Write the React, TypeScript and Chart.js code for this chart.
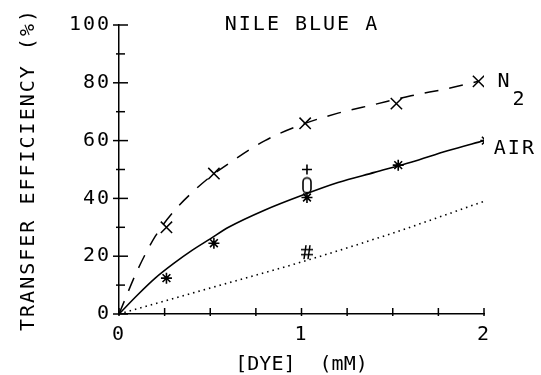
import React, { useEffect, useRef } from "react";
import { Chart, registerables } from "chart.js";

Chart.register(...registerables);

// ---- data ----
const n2CurveX = [0, 0.1, 0.2, 0.3, 0.4, 0.5, 0.6, 0.8, 1.0, 1.2, 1.4, 1.6, 1.8, 1.97];
const n2CurveY = [0, 15, 27, 35.5, 42, 47.5, 52, 60, 65.5, 69.5, 72.5, 75.5, 78, 80.5];

const airCurveX = [0, 0.1, 0.2, 0.3, 0.4, 0.5, 0.6, 0.8, 1.0, 1.2, 1.4, 1.6, 1.8, 2.0];
const airCurveY = [0, 6.5, 12.5, 17.5, 22, 26, 30, 36, 41, 45.5, 49, 52.5, 56.5, 60];

const dotX = [0, 0.5, 1.0, 1.5, 2.0];
const dotY = [0, 9, 18, 28, 39];

const n2PointX = [0.26, 0.52, 1.02, 1.52, 1.97];
const n2PointY = [30, 48.6, 66, 72.8, 80.5];

const airPointX = [0.26, 0.52, 1.03, 1.53, 2.01];
const airPointY = [12.4, 24.5, 40.3, 51.5, 60];

const plusPoint = { x: 1.03, y: 50 };
const ovalPoint = { x: 1.03, y: 44.5 };
const hashPoint = { x: 1.03, y: 21.4 };

const xLabeled = [0, 1, 2];
const yLabeled = [0, 20, 40, 60, 80, 100];

const titleText = "NILE BLUE A";
const xTitle = "[DYE]  (mM)";
const yTitle = "TRANSFER EFFICIENCY (%)";
const n2Label = "N";
const n2Sub = "2";
const airLabel = "AIR";

const FONT = "'DejaVu Sans Mono', monospace";

function zip(xs: number[], ys: number[]) {
  return xs.map((x, i) => ({ x, y: ys[i] }));
}

function makeOval() {
  const c = document.createElement("canvas");
  c.width = 12;
  c.height = 18;
  const g = c.getContext("2d")!;
  g.strokeStyle = "#000";
  g.lineWidth = 1.6;
  g.beginPath();
  g.moveTo(2, 6);
  g.arcTo(2, 1.5, 6, 1.5, 4);
  g.arcTo(10, 1.5, 10, 6, 4);
  g.lineTo(10, 12);
  g.arcTo(10, 16.5, 6, 16.5, 4);
  g.arcTo(2, 16.5, 2, 12, 4);
  g.closePath();
  g.stroke();
  return c;
}

function makeHash() {
  const c = document.createElement("canvas");
  c.width = 14;
  c.height = 16;
  const g = c.getContext("2d")!;
  g.strokeStyle = "#000";
  g.lineWidth = 1.5;
  g.beginPath();
  g.moveTo(6, 1);
  g.lineTo(4, 15);
  g.moveTo(10, 1);
  g.lineTo(8, 15);
  g.moveTo(1, 5.5);
  g.lineTo(13, 5.5);
  g.moveTo(1, 10.5);
  g.lineTo(13, 10.5);
  g.stroke();
  return c;
}

const spacingPlugin = {
  id: "spacing",
  beforeUpdate(chart: any) {
    chart.ctx.letterSpacing = "2px";
  },
  beforeDraw(chart: any) {
    chart.ctx.letterSpacing = "2px";
  },
};

const decorPlugin = {
  id: "decor",
  afterDraw(chart: any) {
    const ctx = chart.ctx;
    const xs = chart.scales.x;
    const ys = chart.scales.y;
    ctx.save();
    ctx.letterSpacing = "2px";
    ctx.strokeStyle = "#000";
    ctx.lineWidth = 1.5;
    // y ticks crossing the axis
    const ax = xs.left;
    for (let v = 0; v <= 100; v += 10) {
      const py = ys.getPixelForValue(v);
      const major = v % 20 === 0;
      ctx.beginPath();
      ctx.moveTo(ax - (major ? 6 : 3), py);
      ctx.lineTo(ax + (major ? 9 : 6), py);
      ctx.stroke();
    }
    // x ticks crossing the axis
    const ay = ys.bottom;
    for (let v = 0; v <= 2.0001; v += 0.25) {
      const px = xs.getPixelForValue(v);
      ctx.beginPath();
      ctx.moveTo(px, ay + 2);
      ctx.lineTo(px, ay - 6);
      ctx.stroke();
    }
    ctx.fillStyle = "#000";
    // title
    ctx.font = `20px ${FONT}`;
    ctx.textAlign = "center";
    ctx.textBaseline = "middle";
    ctx.fillText(titleText, 302, 25);
    // end labels
    const lastN = n2PointX.length - 1;
    const nx = xs.getPixelForValue(n2PointX[lastN]);
    const ny = ys.getPixelForValue(n2PointY[lastN]);
    ctx.textAlign = "left";
    ctx.fillText(n2Label, nx + 19, ny);
    ctx.fillText(n2Sub, nx + 34, ny + 18);
    const lastA = airPointX.length - 1;
    const axp = xs.getPixelForValue(airPointX[lastA]);
    const ayp = ys.getPixelForValue(airPointY[lastA]);
    ctx.fillText(airLabel, axp + 8, ayp + 8);
    // x axis title
    ctx.letterSpacing = "0px";
    ctx.textAlign = "center";
    ctx.fillText(xTitle, (xs.left + xs.right) / 2, ys.bottom + 51);
    ctx.restore();
  },
};

export default function App() {
  const ref = useRef<HTMLCanvasElement | null>(null);
  useEffect(() => {
    if (!ref.current) return;
    const oval = makeOval();
    const hash = makeHash();
    const black = "#000";
    const chart = new Chart(ref.current, {
      type: "scatter",
      data: {
        datasets: [
          {
            data: zip(n2CurveX, n2CurveY),
            showLine: true,
            borderColor: black,
            borderWidth: 1.5,
            borderDash: [14, 11],
            pointRadius: 0,
            tension: 0.4,
            cubicInterpolationMode: "monotone",
          } as any,
          {
            data: zip(airCurveX, airCurveY),
            showLine: true,
            borderColor: black,
            borderWidth: 1.6,
            pointRadius: 0,
            tension: 0.4,
            cubicInterpolationMode: "monotone",
          } as any,
          {
            data: zip(dotX, dotY),
            showLine: true,
            borderColor: black,
            borderWidth: 1.6,
            borderDash: [1.5, 4],
            pointRadius: 0,
            tension: 0.4,
            cubicInterpolationMode: "monotone",
          } as any,
          {
            data: zip(n2PointX, n2PointY),
            showLine: false,
            pointStyle: "crossRot",
            pointRadius: 8,
            borderColor: black,
            borderWidth: 1.5,
          },
          {
            data: zip(airPointX, airPointY),
            showLine: false,
            pointStyle: "star",
            pointRadius: 5.5,
            borderColor: black,
            borderWidth: 1.6,
          },
          {
            data: [plusPoint],
            showLine: false,
            pointStyle: "cross",
            pointRadius: 5,
            borderColor: black,
            borderWidth: 1.6,
          },
          {
            data: [ovalPoint],
            showLine: false,
            pointStyle: oval,
            pointRadius: 8,
          },
          {
            data: [hashPoint],
            showLine: false,
            pointStyle: hash,
            pointRadius: 8,
          },
        ],
      },
      options: {
        animation: false,
        responsive: false,
        devicePixelRatio: 1,
        layout: { padding: { left: 0, right: 57, top: 25, bottom: 0 } },
        plugins: {
          legend: { display: false },
          tooltip: { enabled: false },
        },
        scales: {
          x: {
            type: "linear",
            min: 0,
            max: 2,
            afterBuildTicks: (s: any) => {
              s.ticks = xLabeled.map((v) => ({ value: v }));
            },
            afterFit: (s: any) => {
              s.height = 61;
            },
            grid: { display: false, drawTicks: false },
            border: { display: true, color: black, width: 1.5 },
            ticks: {
              color: black,
              padding: 9,
              font: { family: FONT, size: 20 },
              maxRotation: 0,
            },
            title: { display: false, text: xTitle },
          },
          y: {
            type: "linear",
            min: 0,
            max: 100,
            afterBuildTicks: (s: any) => {
              s.ticks = yLabeled.map((v) => ({ value: v }));
            },
            afterFit: (s: any) => {
              s.width = 119;
            },
            grid: { display: false, drawTicks: false },
            border: { display: true, color: black, width: 1.5 },
            ticks: {
              color: black,
              padding: 8,
              font: { family: FONT, size: 20 },
            },
            title: {
              display: true,
              text: yTitle,
              color: black,
              font: { family: FONT, size: 20 },
              padding: { top: 17, bottom: 0 },
            },
          },
        },
      },
      plugins: [spacingPlugin, decorPlugin],
    });
    return () => chart.destroy();
  }, []);
  return (
    <div style={{ position: "fixed", left: 0, top: 0, width: 541, height: 375, background: "#fff" }}>
      <canvas ref={ref} width={541} height={375} />
    </div>
  );
}
